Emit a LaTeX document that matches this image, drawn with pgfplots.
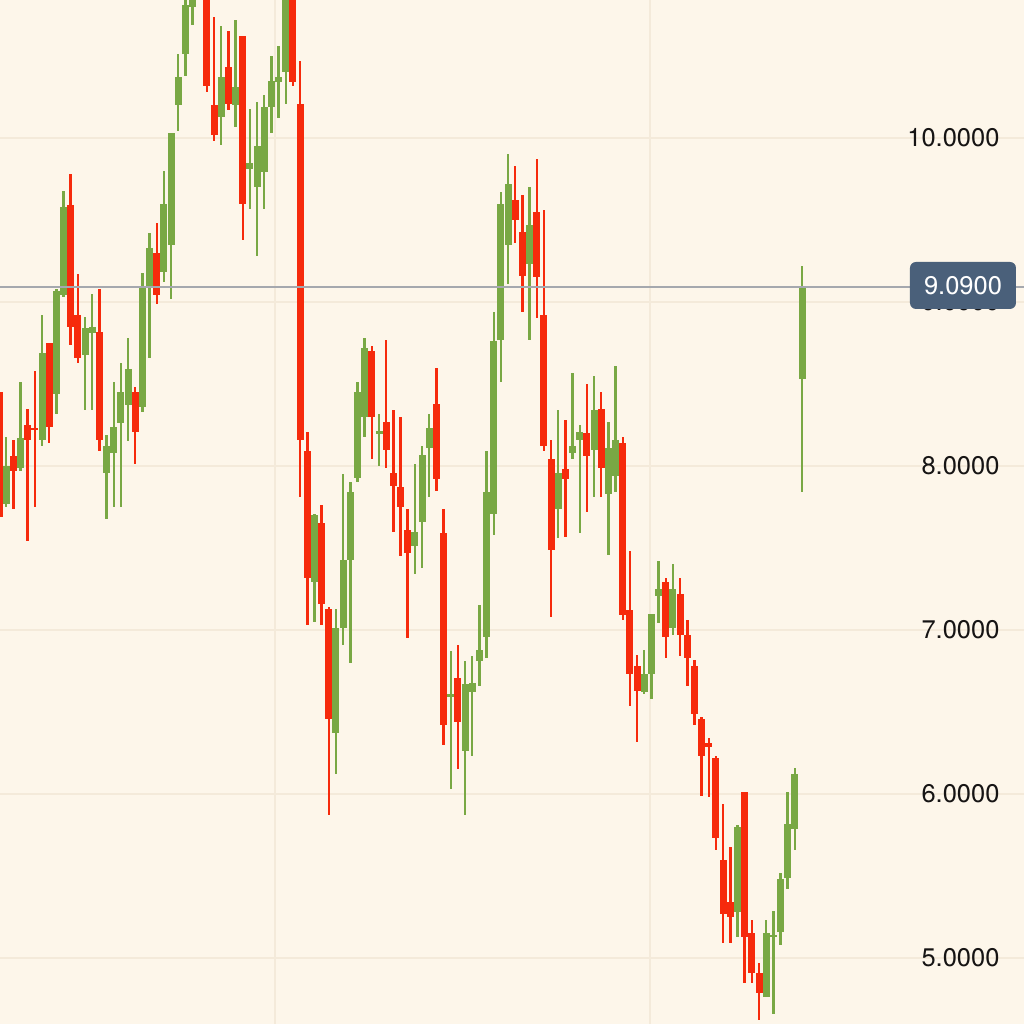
\documentclass[border=0pt]{standalone}
\usepackage{fontspec}
\setmainfont{TeX Gyre Heros}
\usepackage{pgfplots}
\pgfplotsset{compat=1.18}
\usepackage{pgfplotstable}
\definecolor{bg}{RGB}{253,246,234}
\definecolor{upc}{RGB}{121,168,68}
\definecolor{dnc}{RGB}{246,42,12}
\definecolor{gridc}{RGB}{244,234,218}
\definecolor{lastline}{RGB}{165,168,174}
\definecolor{boxc}{RGB}{74,96,122}
\definecolor{labc}{RGB}{22,20,20}

\pgfplotstableread{
i o c h l
1 7.77 8.00 8.18 7.75
3 7.99 8.17 8.51 7.97
6 8.16 8.69 8.92 8.12
8 8.44 9.07 9.08 8.32
9 9.04 9.58 9.68 9.03
12 8.68 8.84 8.91 8.34
13 8.81 8.85 9.05 8.34
15 7.96 8.12 8.19 7.68
16 8.08 8.24 8.51 7.75
17 8.26 8.45 8.63 7.75
18 8.37 8.59 8.78 8.15
20 8.36 9.09 9.18 8.33
21 9.09 9.33 9.42 8.66
23 9.18 9.60 9.80 9.12
24 9.35 10.03 10.03 9.02
25 10.20 10.37 10.51 10.04
26 10.51 10.81 10.95 10.38
27 10.80 11.00 11.10 10.69
28 10.95 11.20 11.30 10.86
31 10.13 10.37 10.68 9.96
33 10.20 10.31 10.72 10.07
35 9.81 9.85 10.18 9.57
36 9.70 9.95 10.22 9.28
37 9.79 10.19 10.26 9.57
38 10.19 10.35 10.50 10.03
39 10.34 10.37 10.56 10.12
40 10.40 11.00 11.10 10.21
44 7.29 7.70 7.71 7.05
47 6.37 7.01 7.13 6.12
48 7.01 7.43 7.95 6.91
49 7.43 7.84 7.90 6.80
50 7.93 8.45 8.51 7.90
51 8.30 8.72 8.78 8.18
53 8.20 8.21 8.32 8.00
58 7.51 7.60 8.01 7.34
59 7.66 8.07 8.12 7.38
60 8.11 8.23 8.32 7.81
63 6.59 6.61 6.87 6.03
65 6.26 6.67 6.81 5.87
66 6.62 6.68 6.84 6.23
67 6.81 6.88 7.15 6.66
68 6.96 7.84 8.09 6.83
69 7.71 8.76 8.94 7.58
70 8.77 9.60 9.67 8.51
71 9.35 9.72 9.90 9.11
74 9.23 9.47 9.70 8.77
78 7.74 7.96 8.34 7.56
80 8.08 8.12 8.57 8.04
81 8.16 8.21 8.25 7.59
83 8.10 8.34 8.55 7.81
85 7.83 8.11 8.27 7.46
86 7.94 8.16 8.61 7.84
90 6.62 6.73 6.88 6.61
91 6.73 7.10 7.10 6.58
92 7.21 7.25 7.42 7.04
94 7.01 7.25 7.40 6.97
103 5.28 5.80 5.81 5.13
107 4.76 5.15 5.23 4.76
108 5.13 5.14 5.29 4.66
109 5.16 5.48 5.52 5.08
110 5.49 5.82 6.01 5.42
111 5.79 6.12 6.16 5.66
112 8.53 9.09 9.22 7.84
}\upData

\pgfplotstableread{
i o c h l
0 8.45 7.69 8.47 7.67
2 8.06 7.97 8.16 7.74
4 8.25 8.16 8.35 7.54
5 8.23 8.22 8.58 7.75
7 8.75 8.24 8.75 8.14
10 9.59 8.85 9.78 8.74
11 8.92 8.66 9.17 8.63
14 8.82 8.16 9.08 8.09
19 8.45 8.21 8.48 8.01
22 9.30 9.04 9.48 8.99
29 11.00 10.32 11.10 10.28
30 10.20 10.02 10.74 9.98
32 10.43 10.21 10.65 10.17
34 10.62 9.60 10.62 9.38
41 11.00 10.34 11.10 10.32
42 10.21 8.16 10.47 7.81
43 8.09 7.32 8.21 7.03
45 7.65 7.16 7.76 7.03
46 7.13 6.46 7.14 5.87
52 8.70 8.30 8.73 8.04
54 8.27 8.10 8.77 7.99
55 7.96 7.88 8.34 7.60
56 7.87 7.75 8.30 7.45
57 7.61 7.47 7.74 6.95
61 8.38 7.92 8.60 7.85
62 7.59 6.42 7.74 6.30
64 6.71 6.44 6.91 6.15
72 9.62 9.50 9.83 9.36
73 9.43 9.16 9.65 8.94
75 9.55 9.15 9.87 8.90
76 8.92 8.12 9.56 8.09
77 8.04 7.49 8.16 7.08
79 7.98 7.92 8.28 7.57
82 8.20 8.06 8.50 7.72
84 8.35 7.99 8.45 7.81
87 8.14 7.09 8.18 7.06
88 7.12 6.73 7.48 6.54
89 6.78 6.63 6.85 6.32
93 7.29 6.96 7.32 6.83
95 7.22 6.97 7.32 6.84
96 6.97 6.83 7.06 6.66
97 6.78 6.49 6.82 6.42
98 6.46 6.23 6.47 5.99
99 6.31 6.29 6.34 5.98
100 6.22 5.73 6.23 5.66
101 5.60 5.27 5.94 5.09
102 5.34 5.25 5.68 5.09
104 6.01 5.13 6.01 4.85
105 5.15 4.91 5.23 4.85
106 4.91 4.79 4.97 4.62
}\dnData

\newcommand{\labfont}{\fontsize{12.75}{15}\selectfont}

\begin{document}
\begin{tikzpicture}
\begin{axis}[
  scale only axis,
  width=512pt, height=512pt,
  xmin=0.1395, xmax=142.96,
  ymin=4.598, ymax=10.8415,
  axis background/.style={fill=bg},
  axis line style={draw=none},
  tick style={draw=none},
  major tick length=0pt,
  xtick={38.5,90.8},
  ytick={5,6,7,8,9,10},
  xticklabels={}, yticklabels={},
  tick label style={overlay},
  grid=major,
  grid style={draw=gridc, line width=0.6pt},
  clip=true,
  candle/.style={draw=none, mark=none, forget plot,
    error bars/y dir=both, error bars/y explicit, error bars/error mark=none},
]
% wicks
\addplot[candle, error bars/error bar style={draw=upc, line width=1.2pt}]
  table[x=i, y expr={(\thisrow{h}+\thisrow{l})/2}, y error expr={(\thisrow{h}-\thisrow{l})/2}] {\upData};
\addplot[candle, error bars/error bar style={draw=dnc, line width=1.2pt}]
  table[x=i, y expr={(\thisrow{h}+\thisrow{l})/2}, y error expr={(\thisrow{h}-\thisrow{l})/2}] {\dnData};
% bodies
\addplot[candle, error bars/error bar style={draw=upc, line width=3.5pt}]
  table[x=i, y expr={(\thisrow{o}+\thisrow{c})/2}, y error expr={max(abs(\thisrow{c}-\thisrow{o})/2,0.007)}] {\upData};
\addplot[candle, error bars/error bar style={draw=dnc, line width=3.5pt}]
  table[x=i, y expr={(\thisrow{o}+\thisrow{c})/2}, y error expr={max(abs(\thisrow{c}-\thisrow{o})/2,0.007)}] {\dnData};
% last price line
\draw[lastline, line width=1pt] (axis cs:0.1395,9.09) -- (axis cs:142.96,9.09);
% price labels
\node[anchor=east, inner sep=0pt, text=labc, font=\labfont] at (axis cs:139.6,10) {10.0000};
\node[anchor=east, inner sep=0pt, text=labc, font=\labfont] at (axis cs:139.6,9) {9.0000};
\node[anchor=east, inner sep=0pt, text=labc, font=\labfont] at (axis cs:139.6,8) {8.0000};
\node[anchor=east, inner sep=0pt, text=labc, font=\labfont] at (axis cs:139.6,7) {7.0000};
\node[anchor=east, inner sep=0pt, text=labc, font=\labfont] at (axis cs:139.6,6) {6.0000};
\node[anchor=east, inner sep=0pt, text=labc, font=\labfont] at (axis cs:139.6,5) {5.0000};
\node[fill=boxc, text=white, rounded corners=3pt, minimum width=53pt, minimum height=23.5pt, inner sep=0pt, font=\labfont] at (axis cs:134.45,9.101) {9.0900};
\end{axis}
\pgfresetboundingbox
\useasboundingbox (current axis.south west) rectangle (current axis.north east);
\end{tikzpicture}
\end{document}
